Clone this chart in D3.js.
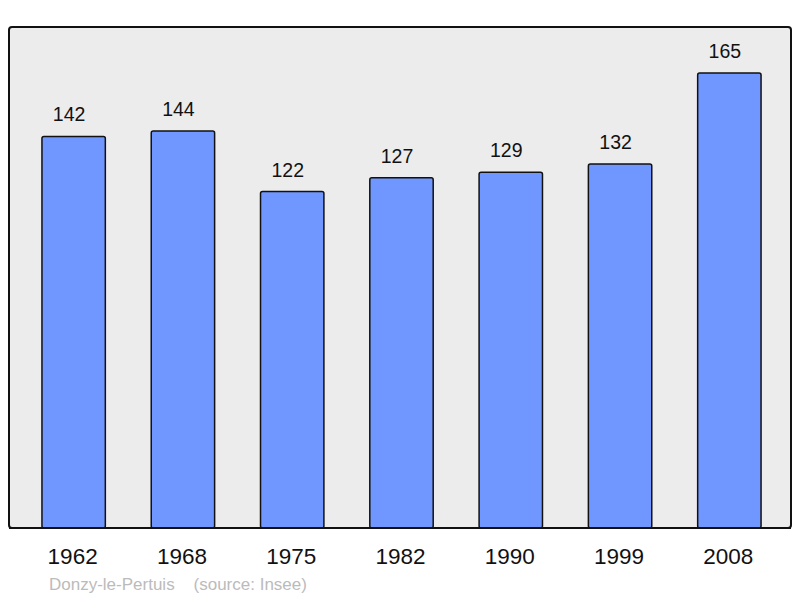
<!DOCTYPE html>
<html>
<head>
<meta charset="utf-8">
<script src="https://cdn.jsdelivr.net/npm/d3@7"></script>
<style>
  body { margin: 0; background: #fff; }
  text { font-family: "Liberation Sans", Arial, sans-serif; }
</style>
</head>
<body>
<svg id="chart" width="800" height="598"></svg>
<script>
// population by census year
const years = ["1962", "1968", "1975", "1982", "1990", "1999", "2008"];
const population = [142, 144, 122, 127, 129, 132, 165];
const footer = "Donzy-le-Pertuis    (source: Insee)";

const svg = d3.select("#chart");

// frame
let frame = { left: 9, top: 27, right: 791, bottom: 528 };

svg.append("rect")
	.attr("x", frame.left)
	.attr("y", frame.top)
	.attr("width", frame.right - frame.left)
	.attr("height", frame.bottom - frame.top)
	.attr("rx", 3)
	.attr("fill", "#ececec")
	.attr("stroke", "#111")
	.attr("stroke-width", 2);

// scales
let x = d3.scaleBand()
	.domain(years)
	.range([19, 784])
	.paddingInner(0.42)
	.paddingOuter(0.21);

let y = d3.scaleLinear()
	.domain([0, 165])
	.range([frame.bottom, 73]);

let data = years.map((yr, i) => ({ year: yr, value: population[i] }));

// bars
svg.selectAll("rect.bar")
	.data(data)
	.enter()
	.append("rect")
	.attr("class", "bar")
	.attr("x", d => x(d.year))
	.attr("y", d => y(d.value))
	.attr("width", x.bandwidth())
	.attr("height", d => y(0) - y(d.value))
	.attr("rx", 2)
	.attr("fill", "#7097ff")
	.attr("stroke", "#111")
	.attr("stroke-width", 1.5);

// value labels (sit a little left of the bar centre, like the original)
svg.selectAll("text.value")
	.data(data)
	.enter()
	.append("text")
	.attr("class", "value")
	.attr("x", d => x(d.year) + x.bandwidth() / 2 - 4.5)
	.attr("y", d => y(d.value) - 15)
	.attr("text-anchor", "middle")
	.attr("font-size", 19.5)
	.attr("fill", "#111")
	.text(d => d.value);

// redraw bottom edge over bars
svg.append("line")
	.attr("x1", frame.left)
	.attr("x2", frame.right)
	.attr("y1", frame.bottom)
	.attr("y2", frame.bottom)
	.attr("stroke", "#111")
	.attr("stroke-width", 2);

// year labels
svg.selectAll("text.year")
	.data(years)
	.enter()
	.append("text")
	.attr("class", "year")
	.attr("x", d => x(d) + x.bandwidth() / 2 - 1)
	.attr("y", 564)
	.attr("text-anchor", "middle")
	.attr("font-size", 22.5)
	.attr("fill", "#111")
	.text(d => d);

svg.append("text")
	.attr("x", 49)
	.attr("y", 590)
	.attr("font-size", 17)
	.attr("fill", "#bbb")
	.attr("xml:space", "preserve")
	.style("white-space", "pre")
	.text(footer);
</script>
</body>
</html>
